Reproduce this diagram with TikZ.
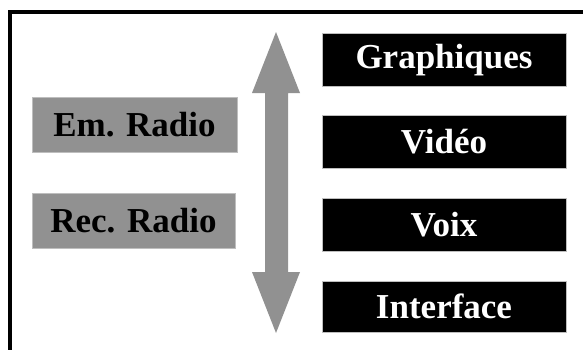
\documentclass[tikz,border=0pt]{standalone}
\usepackage{fontspec}
\setmainfont{Liberation Serif}
\definecolor{boxgray}{RGB}{145,145,145}
\definecolor{edgegray}{RGB}{190,190,190}
\begin{document}
\begin{tikzpicture}[x=1pt,y=-1pt,
  graybox/.style={draw=edgegray, line width=0.8pt, fill=boxgray, text=black, inner sep=0pt, font=\fontsize{35}{40}\selectfont\bfseries},
  blackbox/.style={draw=edgegray, line width=0.8pt, fill=black, text=white, inner sep=0pt, minimum width=244pt, minimum height=53pt, font=\fontsize{35}{40}\selectfont\bfseries}]
\useasboundingbox (0,0) rectangle (583,349);
\fill[white] (0,0) rectangle (583,349);
% frame (top and left only)
\draw[line width=3.5pt, line cap=rect] (10,352) -- (10,12) -- (586,12);
% left gray boxes
\node[graybox, minimum width=205pt, minimum height=55pt] (em) at (134.5,124.5) {Em. Radio};
\node[graybox, minimum width=203pt, minimum height=55pt] (rec) at (133.5,220.5) {Rec. Radio};
% double arrow
\fill[boxgray] (276,32) -- (300,93) -- (288,93) -- (288,272) -- (300,272) -- (276,333)
  -- (252,272) -- (265,272) -- (265,93) -- (252,93) -- cycle;
% right black boxes
\node[blackbox] (gra) at (444,60) {Graphiques};
\node[blackbox] (vid) at (444,141.5) {Vidéo};
\node[blackbox] (voi) at (444,224.5) {Voix};
\node[blackbox, minimum height=51pt] (int) at (444,306.5) {Interface};
\end{tikzpicture}
\end{document}
